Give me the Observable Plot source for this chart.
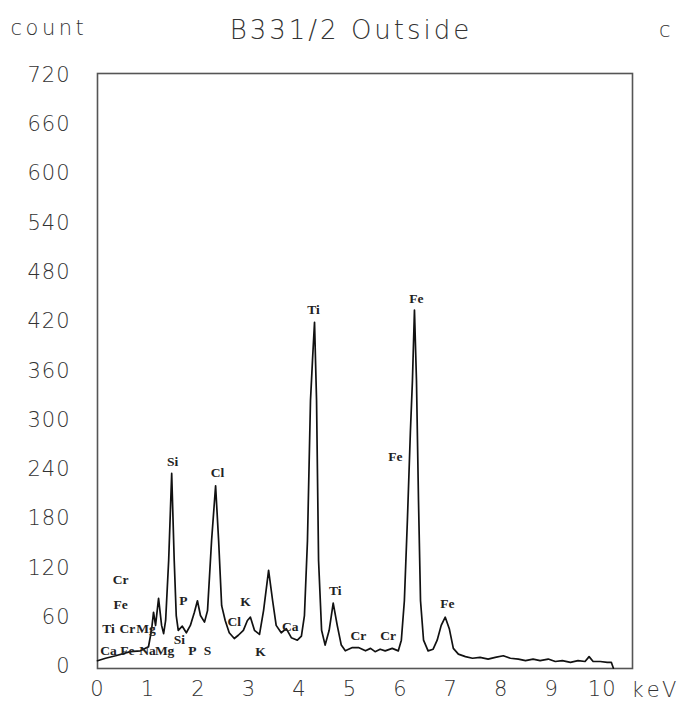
<!DOCTYPE html>
<html>
<head>
<meta charset="utf-8">
<script src="https://cdn.jsdelivr.net/npm/d3@7"></script>
<script src="https://cdn.jsdelivr.net/npm/@observablehq/plot@0.6"></script>
<style>
  html, body { margin: 0; padding: 0; background: #fff; }
</style>
</head>
<body>
<div id="chart"></div>
<script>
// Spectrum: energy (keV) and counts
const energy = [0.00,0.16,0.36,0.65,0.85,1.01,1.07,1.11,1.15,1.21,1.27,1.31,1.35,1.41,1.47,1.52,1.56,1.60,1.68,1.76,1.84,1.92,1.98,2.04,2.12,2.18,2.26,2.34,2.40,2.46,2.53,2.61,2.71,2.79,2.89,2.97,3.03,3.11,3.21,3.29,3.39,3.47,3.54,3.64,3.74,3.84,3.96,4.04,4.10,4.16,4.22,4.26,4.30,4.34,4.38,4.44,4.51,4.59,4.67,4.75,4.83,4.91,5.05,5.17,5.31,5.41,5.50,5.60,5.70,5.84,5.96,6.02,6.08,6.14,6.20,6.24,6.28,6.32,6.36,6.40,6.46,6.55,6.65,6.73,6.81,6.89,6.97,7.05,7.15,7.29,7.43,7.58,7.74,7.88,8.04,8.18,8.34,8.48,8.63,8.77,8.93,9.07,9.21,9.37,9.52,9.66,9.74,9.82,9.96,10.10,10.18,10.22];
const counts = [7,10,13,18,19,24,44,66,50,83,50,40,56,129,235,129,62,44,49,41,50,66,80,62,54,68,153,220,153,74,56,41,34,38,44,56,60,44,39,68,117,80,50,41,46,35,32,37,62,153,324,373,419,324,129,44,26,44,77,50,26,19,23,23,19,22,18,21,19,22,19,32,80,178,287,348,434,348,202,80,32,19,21,32,50,60,46,22,15,12,10,11,9,11,13,10,9,7,9,7,9,6,7,5,7,6,12,6,6,5,5,-2];

// Element labels
const labelText  = ["Si","Cl","Ti","Fe","Fe","Ti","Cr","Cr","Fe","Ca","K","K","Cl","P","Si","P","S","Cr","Fe","Ti","Cr","Mg","Ca","Fe","Na","Mg"];
const labelE     = [1.49,2.38,4.28,6.32,5.90,4.71,5.17,5.76,6.93,3.82,2.93,3.23,2.71,1.70,1.62,1.88,2.18,0.46,0.46,0.22,0.59,0.96,0.22,0.59,0.99,1.33];
const labelCount = [249,236,434,448,255,92,38,38,76,48,79,18,55,80,32,19,19,106,75,46,46,46,19,19,19,19];

// Axis ticks
const xTicks = [0,1,2,3,4,5,6,7,8,9,10];
const yTicks = [0,60,120,180,240,300,360,420,480,540,600,660,720];

const spectrum = energy.map((e, i) => ({e, c: counts[i]}));
const labels = labelText.map((t, i) => ({t, e: labelE[i], c: labelCount[i]}));

const sans = "'DejaVu Sans', sans-serif";

const chart = Plot.plot({
  width: 683,
  height: 702,
  marginLeft: 97,
  marginRight: 51,
  marginTop: 73,
  marginBottom: 34,
  style: { fontFamily: sans, background: "#fff", color: "#333" },
  x: { domain: [0, 10.6], ticks: xTicks, tickSize: 0, tickPadding: 13, label: null },
  y: { domain: [-2.5, 722], ticks: yTicks, tickSize: 0, tickPadding: 27, label: null },
  marks: [
    Plot.frame({ stroke: "#555", strokeWidth: 1.6 }),
    Plot.axisX({ ticks: xTicks, tickSize: 0, tickPadding: 13, fontSize: 21, fill: "#333", fontWeight: 300 }),
    Plot.axisY({ ticks: yTicks, tickSize: 0, tickPadding: 27, fontSize: 21, fill: "#333", fontWeight: 300 }),
    Plot.line(spectrum, { x: "e", y: "c", stroke: "#111", strokeWidth: 1.7, curve: "linear" }),
    Plot.text(labels, { x: "e", y: "c", text: "t", fontFamily: "'Liberation Serif', serif", fontWeight: "bold", fontSize: 13.5, fill: "#222" }),
    Plot.text(["keV"], { ariaLabel: () => "kev-label", frameAnchor: "bottom-right", dx: 48, dy: 22, textAnchor: "end", lineAnchor: "middle", fontSize: 21, fill: "#333", fontWeight: 300 }),
    Plot.text(["B331/2 Outside"], { ariaLabel: () => "title", frameAnchor: "top", dx: -14, dy: -43, lineAnchor: "middle", fontSize: 26, fill: "#333", fontWeight: 300 }),
    Plot.text(["count"], { ariaLabel: () => "count-label", frameAnchor: "top-left", dx: -87, dy: -45, textAnchor: "start", lineAnchor: "middle", fontSize: 21, fill: "#333", fontWeight: 300 }),
    Plot.text(["c"], { frameAnchor: "top-right", dx: 38, dy: -43, lineAnchor: "middle", fontSize: 21, fill: "#333", fontWeight: 300 })
  ]
});
const svg = d3.select(chart);
svg.selectAll('text[aria-label="title"]').attr("letter-spacing", 3);
svg.selectAll('text[aria-label="count-label"]').attr("letter-spacing", 3.5);
svg.selectAll('text[aria-label="kev-label"]').attr("letter-spacing", 4);
svg.selectAll('g[aria-label="y-axis tick label"] text').attr("letter-spacing", 1);
svg.selectAll('g[aria-label="x-axis tick label"] text').attr("letter-spacing", 1);
document.getElementById("chart").appendChild(chart);
</script>
</body>
</html>
